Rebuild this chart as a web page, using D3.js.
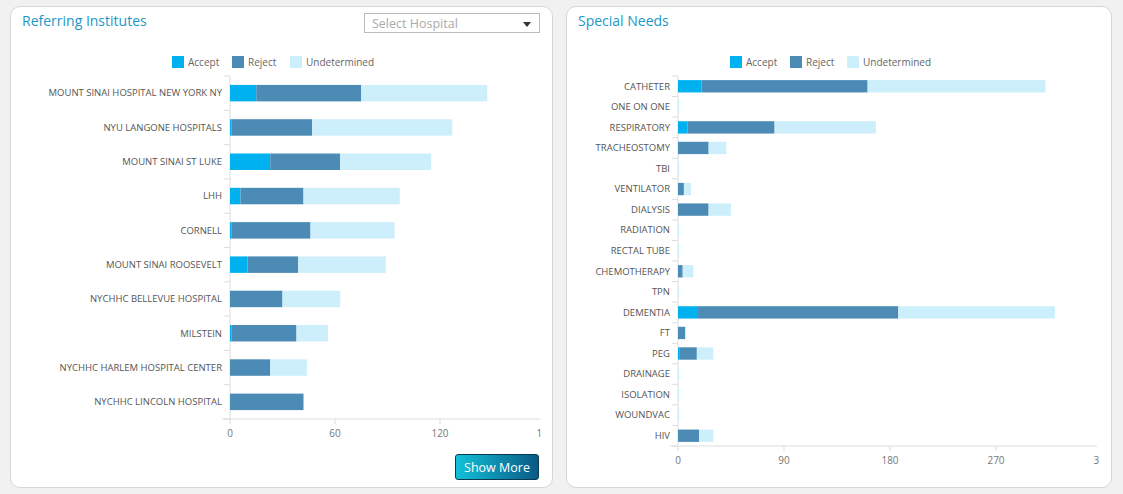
<!DOCTYPE html>
<html><head><meta charset="utf-8">
<script src="https://cdn.jsdelivr.net/npm/d3@7/dist/d3.min.js"></script>
<style>
body{margin:0;background:#f1f1f1;font-family:"Open Sans",sans-serif;}
.panel{position:absolute;background:#fff;border:1px solid #d6d6d6;border-radius:10px;}
.title{position:absolute;color:#1b98c4;font-size:14px;}
.sel{position:absolute;left:364px;top:13px;width:174px;height:20px;border:1px solid #bbb;background:#fff;color:#aaa;font-size:12.5px;line-height:20px;padding-left:7px;box-sizing:border-box;width:176px;}
.sel:after{content:"";position:absolute;right:8px;top:8px;border:4px solid transparent;border-top:5px solid #333;}
.btn{position:absolute;left:455px;top:454px;width:84px;height:26px;border-radius:3px;border:1px solid #0b3a50;background:linear-gradient(90deg,#13c0d8,#0a5a85);color:#fff;font-size:12.5px;line-height:26px;text-align:center;box-sizing:border-box;}
svg{position:absolute;left:0;top:0;}
</style></head><body>
<div class="panel" style="left:10px;top:6px;width:541px;height:480px"></div>
<div class="panel" style="left:566px;top:6px;width:544px;height:480px"></div>
<div class="title" style="left:22px;top:11px">Referring Institutes</div>
<div class="title" style="left:578px;top:11px">Special Needs</div>
<div class="sel">Select Hospital</div>
<div class="btn">Show More</div>
<svg width="1123" height="494"></svg>
<script>
const series=["Accept","Reject","Undetermined"];
const colors=["#00b1f0","#4b8bb6","#cdeffb"];
const hospitals=["MOUNT SINAI HOSPITAL NEW YORK NY","NYU LANGONE HOSPITALS","MOUNT SINAI ST LUKE","LHH","CORNELL","MOUNT SINAI ROOSEVELT","NYCHHC BELLEVUE HOSPITAL","MILSTEIN","NYCHHC HARLEM HOSPITAL CENTER","NYCHHC LINCOLN HOSPITAL"];
const hAccept=[15,1,23,6,1,10,0,1,0,0];
const hReject=[60,46,40,36,45,29,30,37,23,42];
const hUndet=[72,80,52,55,48,50,33,18,21,0];
const hTicks=[0,60,120,180];
const needs=["CATHETER","ONE ON ONE","RESPIRATORY","TRACHEOSTOMY","TBI","VENTILATOR","DIALYSIS","RADIATION","RECTAL TUBE","CHEMOTHERAPY","TPN","DEMENTIA","FT","PEG","DRAINAGE","ISOLATION","WOUNDVAC","HIV"];
const nAccept=[20,0,8,0,0,0,0,0,0,0,0,17,0,1,0,0,0,0];
const nReject=[141,0,74,26,0,5,26,0,0,4,0,170,6,15,0,0,0,18];
const nUndet=[151,1,86,15,1,6,19,1,1,9,1,133,1,14,1,1,1,12];
const nTicks=[0,90,180,270,360];

const svg=d3.select("svg");
function chart(o){
  const g=svg.append("g");
  const x=d3.scaleLinear().domain([0,o.max]).range([o.x0,o.x0+o.w]);
  const y=d3.scaleBand().domain(o.cats).range([o.y0,o.y1]).paddingInner(o.pad).paddingOuter(o.pad/2);
  const rows=o.cats.map((c,i)=>({c,v:[o.a[i],o.r[i],o.u[i]]}));
  const stack=d3.stack().keys([0,1,2]).value((d,k)=>d.v[k])(rows);
  const clip="c"+o.x0;
  svg.append("clipPath").attr("id",clip).append("rect").attr("x",o.x0-30).attr("y",0).attr("width",o.axisEnd-o.x0+32).attr("height",494);
  // ticks on y axis
  const step=y.step();
  g.selectAll(".yt").data(d3.range(o.cats.length+1)).join("line")
   .attr("x1",o.x0-6).attr("x2",o.x0).attr("y1",i=>o.y0+i*step).attr("y2",i=>o.y0+i*step).attr("stroke","#ddd");
  g.append("line").attr("x1",o.x0).attr("x2",o.x0).attr("y1",o.y0).attr("y2",o.y1).attr("stroke","#ddd");
  stack.forEach((s,k)=>{
    g.selectAll(".b"+k).data(s).join("rect")
     .attr("x",d=>x(d[0])).attr("width",d=>Math.max(0,x(d[1])-x(d[0])))
     .attr("y",d=>y(d.data.c)).attr("height",y.bandwidth()).attr("fill",colors[k]);
  });
  g.selectAll(".lab").data(o.cats).join("text").attr("x",o.x0-8).attr("y",d=>y(d)+y.bandwidth()/2).attr("dy","0.35em")
   .attr("text-anchor","end").attr("font-size",o.fs).attr("fill","#555").text(d=>d);
  g.append("line").attr("x1",o.x0-8).attr("x2",o.axisEnd).attr("y1",o.y1).attr("y2",o.y1).attr("stroke","#ddd");
  const ax=g.append("g").attr("clip-path",`url(#${clip})`);
  ax.selectAll("line.t").data(o.ticks).join("line").attr("x1",d=>x(d)).attr("x2",d=>x(d)).attr("y1",o.y1).attr("y2",o.y1+5).attr("stroke","#ddd");
  ax.selectAll("text").data(o.ticks).join("text").attr("x",d=>x(d)).attr("y",o.y1+18).attr("text-anchor","middle")
   .attr("font-size",10).attr("fill","#777").text(d=>d);
  // legend
  const lg=g.append("g");
  series.forEach((s,k)=>{
    lg.append("rect").attr("x",o.lx[k]).attr("y",56).attr("width",12).attr("height",12).attr("fill",colors[k]);
    lg.append("text").attr("x",o.lx[k]+16).attr("y",66).attr("font-size",10).attr("fill","#666").text(s);
  });
}
chart({cats:hospitals,a:hAccept,r:hReject,u:hUndet,max:180,x0:230,w:315,axisEnd:540,y0:76,y1:419,pad:0.52,fs:9.5,ticks:hTicks,lx:[172,232,290]});
chart({cats:needs,a:nAccept,r:nReject,u:nUndet,max:360,x0:678,w:424,axisEnd:1097,y0:76,y1:446,pad:0.4,fs:9.5,ticks:nTicks,lx:[730,790,847]});
</script>
</body></html>
